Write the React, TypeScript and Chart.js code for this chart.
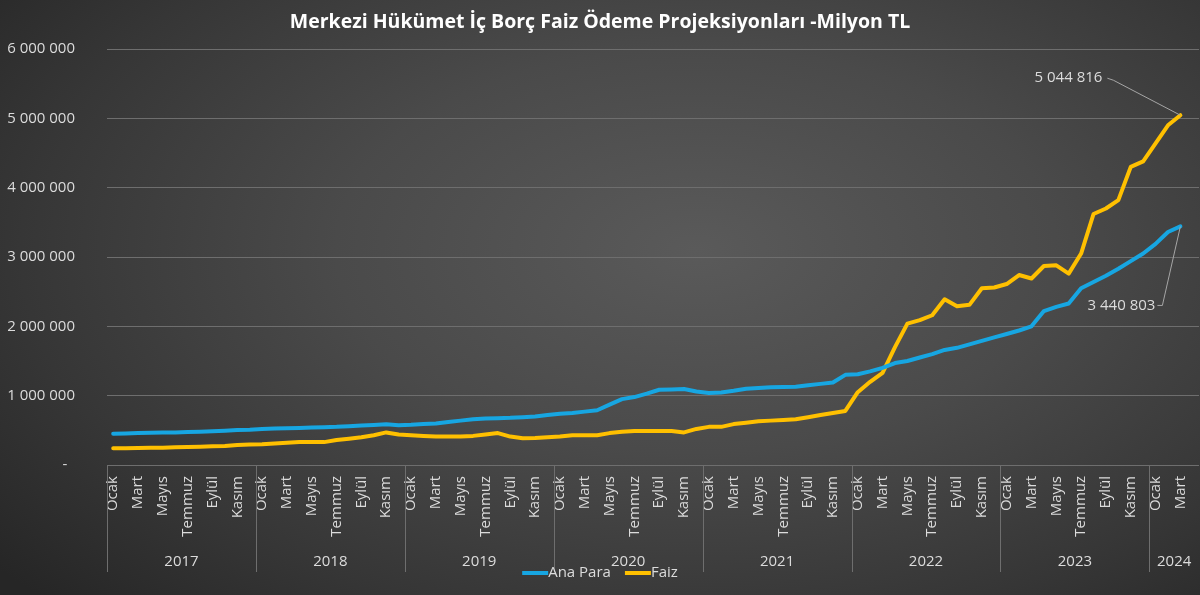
import { useEffect, useRef } from "react";
import { Chart, registerables } from "chart.js";

Chart.register(...registerables);

const TITLE = "Merkezi Hükümet İç Borç Faiz Ödeme Projeksiyonları -Milyon TL";
const MONTHS = ["Ocak", "Şubat", "Mart", "Nisan", "Mayıs", "Haziran", "Temmuz", "Ağustos", "Eylül", "Ekim", "Kasım", "Aralık"];
const YEARS = [2017, 2018, 2019, 2020, 2021, 2022, 2023, 2024];
const MONTHS_IN_LAST_YEAR = 4; // Ocak–Nisan 2024 (Nisan has no data)

const SERIES_NAMES = ["Ana Para", "Faiz"];

// Ana Para (Milyon TL), Ocak 2017 – Mart 2024
const anaPara = [
  450000, 455000, 460000, 465000, 468000, 470000, 475000, 480000, 488000, 495000, 505000, 510000,
  520000, 525000, 530000, 535000, 540000, 545000, 550000, 560000, 570000, 578000, 588000, 575000,
  580000, 590000, 600000, 620000, 640000, 660000, 670000, 675000, 680000, 690000, 700000, 720000,
  740000, 750000, 770000, 790000, 870000, 950000, 980000, 1030000, 1085000, 1090000, 1095000, 1060000,
  1040000, 1045000, 1070000, 1100000, 1110000, 1120000, 1125000, 1130000, 1150000, 1170000, 1190000, 1300000,
  1310000, 1350000, 1400000, 1470000, 1500000, 1550000, 1600000, 1660000, 1690000, 1740000, 1790000, 1840000,
  1890000, 1940000, 2000000, 2220000, 2280000, 2330000, 2550000, 2640000, 2730000, 2830000, 2940000, 3050000,
  3190000, 3360000, 3440803,
];

// Faiz (Milyon TL), Ocak 2017 – Mart 2024
const faiz = [
  240000, 240000, 245000, 250000, 250000, 255000, 260000, 265000, 270000, 275000, 290000, 295000,
  300000, 310000, 320000, 330000, 330000, 330000, 360000, 380000, 400000, 430000, 470000, 440000,
  430000, 420000, 410000, 410000, 410000, 420000, 440000, 460000, 410000, 385000, 390000, 400000,
  410000, 430000, 430000, 430000, 460000, 480000, 490000, 490000, 490000, 490000, 470000, 520000,
  550000, 550000, 590000, 610000, 630000, 640000, 650000, 660000, 690000, 720000, 750000, 780000,
  1050000, 1200000, 1330000, 1700000, 2040000, 2090000, 2160000, 2390000, 2290000, 2310000, 2550000, 2560000,
  2610000, 2740000, 2690000, 2870000, 2880000, 2760000, 3050000, 3620000, 3700000, 3820000, 4300000, 4380000,
  4640000, 4900000, 5044816,
];

const Y_TICKS = [0, 1000000, 2000000, 3000000, 4000000, 5000000, 6000000];

const FONT = '"Open Sans", "DejaVu Sans", sans-serif';
const TEXT = "#dcdcdc";
const GRID = "#6e6e6e";
const BLUE = "#17a6e2";
const GOLD = "#ffc000";

const labels: string[] = [];
YEARS.forEach((yr, yi) => {
  const n = yi === YEARS.length - 1 ? MONTHS_IN_LAST_YEAR : 12;
  for (let m = 0; m < n; m++) labels.push(MONTHS[m]);
});

const fmt = (v: number) => Math.round(v).toString().replace(/\B(?=(\d{3})+(?!\d))/g, " ");

const overlay = {
  id: "overlay",
  afterDraw(chart: any) {
    const { ctx, chartArea } = chart;
    const xs = chart.scales.x;
    const ys = chart.scales.y;
    ctx.save();

    // Title
    ctx.fillStyle = "#ffffff";
    ctx.font = `bold 19.5px ${FONT}`;
    ctx.textAlign = "center";
    ctx.textBaseline = "middle";
    ctx.fillText(TITLE, chart.width / 2, 22);

    // Year groups: separators and labels
    const half = (xs.getPixelForValue(1) - xs.getPixelForValue(0)) / 2;
    ctx.strokeStyle = GRID;
    ctx.lineWidth = 1;
    ctx.font = `15px ${FONT}`;
    ctx.fillStyle = TEXT;
    let idx = 0;
    YEARS.forEach((yr, yi) => {
      const n = yi === YEARS.length - 1 ? MONTHS_IN_LAST_YEAR : 12;
      const x0 = xs.getPixelForValue(idx) - half;
      const x1 = xs.getPixelForValue(idx + n - 1) + half;
      const sx = Math.round(x0) + 0.5;
      ctx.beginPath();
      ctx.moveTo(sx, chartArea.bottom);
      ctx.lineTo(sx, chartArea.bottom + 107);
      ctx.stroke();
      ctx.fillText(String(yr), (x0 + x1) / 2, chartArea.bottom + 97);
      idx += n;
    });

    // Legend
    ctx.font = `15px ${FONT}`;
    const lineLen = 26;
    const gap = 14;
    const w0 = ctx.measureText(SERIES_NAMES[0]).width;
    const w1 = ctx.measureText(SERIES_NAMES[1]).width;
    const total = lineLen + w0 + gap + lineLen + w1;
    let lx = chart.width / 2 - total / 2;
    const ly = 573;
    const colors = [BLUE, GOLD];
    const widths = [w0, w1];
    ctx.textAlign = "left";
    ctx.lineCap = "butt";
    for (let i = 0; i < 2; i++) {
      ctx.strokeStyle = colors[i];
      ctx.lineWidth = 4;
      ctx.beginPath();
      ctx.moveTo(lx, ly);
      ctx.lineTo(lx + lineLen, ly);
      ctx.stroke();
      ctx.fillStyle = TEXT;
      ctx.fillText(SERIES_NAMES[i], lx + lineLen, ly);
      lx += lineLen + widths[i] + gap;
    }

    // Data labels with leader lines on the last points
    const last = anaPara.length - 1;
    const px = xs.getPixelForValue(last);
    const pyF = ys.getPixelForValue(faiz[last]);
    const pyA = ys.getPixelForValue(anaPara[last]);
    ctx.strokeStyle = "#a6a6a6";
    ctx.lineWidth = 1;
    ctx.beginPath();
    ctx.moveTo(px - 73, pyF - 37);
    ctx.lineTo(px - 67, pyF - 35);
    ctx.lineTo(px, pyF);
    ctx.stroke();
    ctx.beginPath();
    ctx.moveTo(px - 23, pyA + 79);
    ctx.lineTo(px - 18, pyA + 79);
    ctx.lineTo(px, pyA);
    ctx.stroke();
    ctx.fillStyle = TEXT;
    ctx.font = `15px ${FONT}`;
    ctx.textAlign = "right";
    ctx.fillText(fmt(faiz[last]), px - 78, pyF - 37);
    ctx.fillText(fmt(anaPara[last]), px - 25, pyA + 79);

    ctx.restore();
  },
};

export default function App() {
  const ref = useRef<HTMLCanvasElement>(null);

  useEffect(() => {
    if (!ref.current) return;
    const chart = new Chart(ref.current, {
      type: "line",
      data: {
        labels,
        datasets: [
          {
            label: SERIES_NAMES[0],
            data: anaPara,
            borderColor: BLUE,
            backgroundColor: BLUE,
            borderWidth: 4,
            pointRadius: 0,
            tension: 0,
            borderJoinStyle: "round",
            borderCapStyle: "round",
          },
          {
            label: SERIES_NAMES[1],
            data: faiz,
            borderColor: GOLD,
            backgroundColor: GOLD,
            borderWidth: 4,
            pointRadius: 0,
            tension: 0,
            borderJoinStyle: "round",
            borderCapStyle: "round",
          },
        ],
      },
      options: {
        responsive: false,
        animation: false,
        layout: { padding: { top: 49, right: 1, left: 0, bottom: 0 } },
        plugins: {
          legend: { display: false },
          title: { display: false },
          tooltip: { enabled: false },
        },
        scales: {
          x: {
            type: "category",
            offset: true,
            grid: { display: false, drawTicks: false },
            border: { display: false },
            ticks: {
              autoSkip: false,
              minRotation: 90,
              maxRotation: 90,
              padding: 11,
              color: TEXT,
              font: { family: FONT, size: 15 },
              callback: (_v: any, i: number) => (i % 2 === 0 ? labels[i] : ""),
            },
            afterFit: (scale: any) => {
              scale.height = 130;
              scale.paddingLeft = 0;
              scale.paddingRight = 0;
            },
          },
          y: {
            min: Y_TICKS[0],
            max: Y_TICKS[Y_TICKS.length - 1],
            afterBuildTicks: (scale: any) => {
              scale.ticks = Y_TICKS.map((v) => ({ value: v }));
            },
            grid: { color: GRID, lineWidth: 1, drawTicks: false },
            border: { display: false },
            ticks: {
              padding: 32,
              color: TEXT,
              font: { family: FONT, size: 15 },
              callback: (v: any) => (Number(v) === 0 ? "-  " : fmt(Number(v))),
            },
            afterFit: (scale: any) => {
              scale.width = 107;
            },
          },
        },
      },
      plugins: [overlay],
    });
    return () => chart.destroy();
  }, []);

  return (
    <div
      style={{
        position: "fixed",
        left: 0,
        top: 0,
        width: 1200,
        height: 595,
        background:
          "radial-gradient(ellipse 75% 85% at 58% 42%, #5a5a5a 0%, #4a4a4a 40%, #363636 75%, #262626 100%)",
      }}
    >
      <canvas ref={ref} width={1200} height={595} style={{ display: "block" }} />
    </div>
  );
}
